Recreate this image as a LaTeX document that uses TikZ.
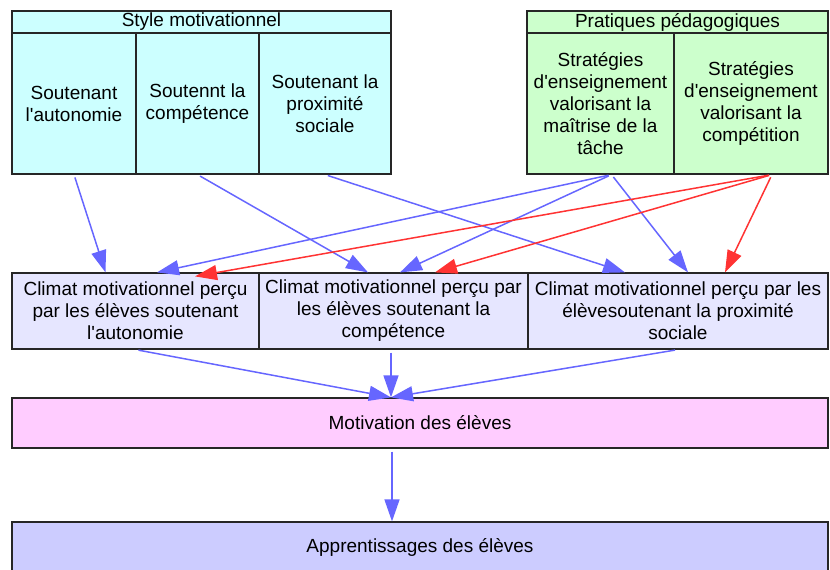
\documentclass[tikz,border=0pt]{standalone}
\usepackage{fontspec}
\setmainfont{Liberation Sans}
\usetikzlibrary{arrows.meta}

\definecolor{styfill}{HTML}{CCFFFF}
\definecolor{pedfill}{HTML}{CCFFCC}
\definecolor{climfill}{HTML}{E6E6FF}
\definecolor{motivfill}{HTML}{FFCCFF}
\definecolor{apprfill}{HTML}{CCCCFF}
\definecolor{arrblue}{HTML}{6666FF}
\definecolor{arrred}{HTML}{FF3333}

\newcommand\hdry{22}
\newcommand\coly{103.5}
\newcommand\climy{311}
\newcommand\apos{\textquotesingle}

\tikzset{
  box/.style={draw=black!85,line width=1.2pt,inner sep=0pt,align=center,
    font=\fontsize{19}{22}\selectfont},
  bluearr/.style={draw=arrblue,line width=1.5pt,-{Triangle[length=22pt,width=15pt]},shorten <=3pt},
  redarr/.style={draw=arrred,line width=1.5pt,-{Triangle[length=22pt,width=15pt]},shorten <=3pt}
}

\begin{document}
\begin{tikzpicture}[x=1pt,y=-1pt]
    \useasboundingbox (0,0) rectangle (830,570);

    % style motivationnel
    \node[box,fill=styfill,minimum width=379pt,minimum height=22pt] (sty) at (201.5,\hdry) {Style motivationnel};
    \node[box,fill=styfill,minimum width=124pt,minimum height=141pt] (styA) at (74,\coly) {Soutenant\\l\apos autonomie};
    \node[box,fill=styfill,minimum width=123pt,minimum height=141pt] (styB) at (197.5,\coly) {Soutennt la\\compétence};
    \node[box,fill=styfill,minimum width=132pt,minimum height=141pt] (styC) at (325,\coly) {Soutenant la\\proximité\\sociale};

    % pratiques pedagogiques
    \node[box,fill=pedfill,minimum width=301pt,minimum height=22pt] (ped) at (677.5,\hdry) {Pratiques pédagogiques};
    \node[box,fill=pedfill,minimum width=147pt,minimum height=141pt] (pedA) at (600.5,\coly) {Stratégies\\d\apos enseignement\\valorisant la\\maîtrise de la\\tâche};
    \node[box,fill=pedfill,minimum width=154pt,minimum height=141pt] (pedB) at (751,\coly) {Stratégies\\d\apos enseignement\\valorisant la\\compétition};

    % climat
    \node[box,fill=climfill,minimum width=247pt,minimum height=76pt] (climA) at (135.5,\climy) {Climat motivationnel perçu\\par les élèves soutenant\\l\apos autonomie};
    \node[box,fill=climfill,minimum width=269pt,minimum height=76pt] (climB) at (393.5,\climy) {Climat motivationnel perçu par\\les élèves soutenant la\\compétence};
    \node[box,fill=climfill,minimum width=300pt,minimum height=76pt] (climC) at (678,\climy) {Climat motivationnel perçu par les\\élèvesoutenant la proximité\\sociale};

    \node[box,fill=motivfill,minimum width=816pt,minimum height=50pt] (motiv) at (420,423) {Motivation des élèves};
    \node[box,fill=apprfill,minimum width=816pt,minimum height=50pt] (appr) at (420,547) {Apprentissages des élèves};

    % style -> climat
    \draw[bluearr] (styA.south) -- ([xshift=-30pt]climA.north);
    \draw[bluearr] (styB.south) -- ([xshift=-25.5pt]climB.north);
    \draw[bluearr] (styC.south) -- ([xshift=-53pt]climC.north);

    % pratiques -> climat
    \draw[bluearr] ([xshift=11pt]pedA.south) -- ([xshift=21.5pt]climA.north);
    \draw[bluearr] ([xshift=11pt]pedA.south) -- ([xshift=6.5pt]climB.north);
    \draw[bluearr] ([xshift=11pt]pedA.south) -- ([xshift=10pt]climC.north);
    \draw[redarr] ([xshift=21pt]pedB.south) -- ([xshift=59.5pt,yshift=-4pt]climA.north);
    \draw[redarr] ([xshift=21pt]pedB.south) -- ([xshift=41.5pt]climB.north);
    \draw[redarr] ([xshift=21pt]pedB.south) -- ([xshift=47pt]climC.north);

    % climat -> motivation -> apprentissages
    \draw[bluearr] (climA.south) -- ([xshift=-29pt]motiv.north);
    \draw[bluearr] ([xshift=-2.5pt]climB.south) -- ([xshift=-29pt]motiv.north);
    \draw[bluearr] (climC.south) -- ([xshift=-29pt]motiv.north);
    \draw[bluearr] ([xshift=-28pt]motiv.south) -- ([xshift=-28pt]appr.north);
\end{tikzpicture}
\end{document}
